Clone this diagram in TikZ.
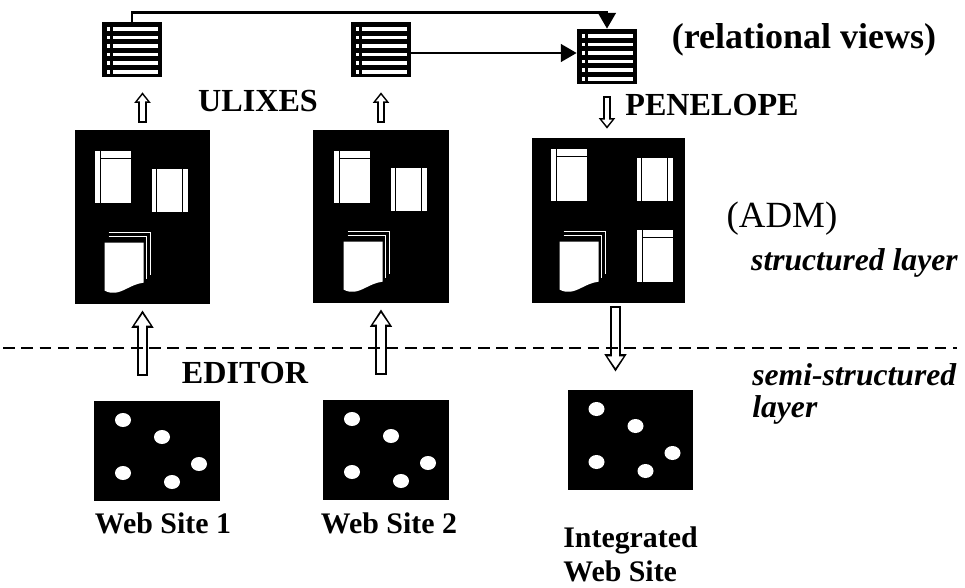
\documentclass[tikz,border=0pt]{standalone}
\usepackage{fontspec}
\setmainfont{Liberation Serif}
\usetikzlibrary{arrows.meta}

\tikzset{
  view/.style={fill=black, minimum width=1.2cm, minimum height=1.1cm, inner sep=0pt,
    path picture={
      \foreach \r in {0,...,5} {
        \fill[white] ([shift={(5,5+8.6*\r)}]path picture bounding box.north west) rectangle ++(3,3.5);
        \fill[white] ([shift={(11,5+8.6*\r)}]path picture bounding box.north west) rectangle ++(45,3.5);
      }}},
  adm/.style={fill=black, inner sep=0pt},
  site/.style={fill=black, minimum width=2.52cm, minimum height=2cm, inner sep=0pt,
    path picture={
      \foreach \dx/\dy in {29/19,68/36,29/72,78/81,105/63}
        \fill[white] ([shift={(\dx,\dy)}]path picture bounding box.north west)
          ellipse [x radius=0.16cm, y radius=0.14cm];
      }},
  link/.style={line width=1.5pt, -{Triangle[length=9pt,width=10pt]}},
  hollow/.style={white, line width=4pt, shorten <=1.1pt, shorten >=2.1pt,
    -{Triangle[length=6.6pt,width=8.6pt]},
    preaction={draw=black, line width=6.3pt, shorten <=0pt, shorten >=0pt,
      -{Triangle[length=10pt,width=12pt]}}},
  thin hollow/.style={white, line width=2.6pt, shorten <=0.9pt, shorten >=1.5pt,
    -{Triangle[length=3.6pt,width=5.6pt]},
    preaction={draw=black, line width=4.6pt, shorten <=0pt, shorten >=0pt,
      -{Triangle[length=6pt,width=9pt]}}},
  layerline/.style={line width=1.4pt, dash pattern=on 6.6pt off 3.8pt},
  lbl/.style={font=\bfseries\fontsize{18.3}{22}\selectfont, inner sep=0pt},
  sitelbl/.style={font=\bfseries\fontsize{17}{19.3}\selectfont, inner sep=0pt, align=left},
  layerlbl/.style={font=\bfseries\itshape\fontsize{18}{18.2}\selectfont, inner sep=0pt, align=left},
  doca/.pic={
    \fill[white] (0,0) rectangle (36,52);
    \draw[black, line width=0.9pt] (6,0) -- (6,52) (6,8) -- (36,8);
  },
  docb/.pic={
    \fill[white] (0,0) rectangle (36,43);
    \draw[black, line width=0.9pt] (5,0) -- (5,43) (31,0) -- (31,43);
  },
  pages/.pic={
    \draw[white, line width=0.8pt] (4,-10) -- (46,-10) -- (46,32)
                                   (4,-6) -- (42,-6) -- (42,36);
    \fill[white] (0,0) -- (39,0) -- (39,40) .. controls (32,41) and (28,43) .. (22,46)
      .. controls (14,50) and (8,52) .. (0,48) -- cycle;
  }
}

\begin{document}
\begin{tikzpicture}[x=0.02cm, y=-0.02cm]
  \useasboundingbox (0,0) rectangle (965,588);

  % relational views
  \node[view] (view1) at (132,49.5) {};
  \node[view] (view2) at (381,49.5) {};
  \node[view] (view3) at (607,56.5) {};

  % ADM pages
  \node[adm, minimum width=2.7cm, minimum height=3.48cm] (adm1) at (142.5,217) {};
  \node[adm, minimum width=2.72cm, minimum height=3.46cm] (adm2) at (381,216.5) {};
  \node[adm, minimum width=3.06cm, minimum height=3.3cm] (adm3) at (608.5,220.5) {};

  \pic at ([shift={(20,21)}]adm1.north west) {doca};
  \pic at ([shift={(77,39)}]adm1.north west) {docb};
  \pic at ([shift={(30,113)}]adm1.north west) {pages};

  \pic at ([shift={(21,21)}]adm2.north west) {doca};
  \pic at ([shift={(78,38)}]adm2.north west) {docb};
  \pic at ([shift={(31,112)}]adm2.north west) {pages};

  \pic at ([shift={(19,11)}]adm3.north west) {doca};
  \pic at ([shift={(105,20)}]adm3.north west) {docb};
  \pic at ([shift={(28,104)}]adm3.north west) {pages};
  \pic at ([shift={(105,92)}]adm3.north west) {doca};

  % web sites
  \node[site] (site1) at (157,451) {};
  \node[site] (site2) at (386,450) {};
  \node[site] (site3) at (630.5,440) {};

  % arrows
  \draw[link] (view1.north) -- ++(0,-9) -| (view3.north);
  \draw[link] ([yshift=-0.07cm]view2.east) -- ([yshift=-0.07cm]view2.east -| view3.west);

  \draw[thin hollow] ([yshift=0.14cm]adm1.north) -- ([yshift=-0.3cm]adm1.north |- view1.south);
  \draw[thin hollow] ([yshift=0.14cm]adm2.north) -- ([yshift=-0.3cm]adm2.north |- view2.south);
  \draw[thin hollow] ([yshift=-0.24cm]view3.south) -- ([yshift=0.18cm]view3.south |- adm3.north);

  \draw[hollow] ([yshift=0.5cm]adm1.south |- site1.north) -- ([yshift=-0.12cm]adm1.south);
  \draw[hollow] ([yshift=0.5cm]adm2.south |- site2.north) -- ([yshift=-0.12cm]adm2.south);
  \draw[hollow] ([xshift=0.14cm,yshift=-0.06cm]adm3.south) -- ([xshift=0.14cm,yshift=0.36cm]adm3.south |- site3.north);

  % layers
  \coordinate (cutl) at (3,348);
  \coordinate (cutr) at (957,348);
  \draw[layerline] (cutl) -- (cutr);

  % labels
  \node[lbl, font=\bfseries\fontsize{20.5}{24}\selectfont] (rv) at (804,40) {(relational views)};
  \node[lbl] (ulixes) at (258,101) {ULIXES};
  \node[lbl] (penelope) at (712,105) {PENELOPE};
  \node[lbl, font=\fontsize{21}{24}\selectfont] (admlbl) at (782,219) {(ADM)};
  \node[lbl] (editor) at (245,373) {EDITOR};
  \node[layerlbl, anchor=east] (struct) at (958,263) {structured layer};
  \node[layerlbl, anchor=west] (semi) at (752,394) {semi-structured\\layer};
  \node[sitelbl] (ws1) at (163,523) {Web Site 1};
  \node[sitelbl] (ws2) at (389,523) {Web Site 2};
  \node[sitelbl, anchor=west] (ws3) at (563,554) {Integrated\\Web Site};
\end{tikzpicture}
\end{document}
